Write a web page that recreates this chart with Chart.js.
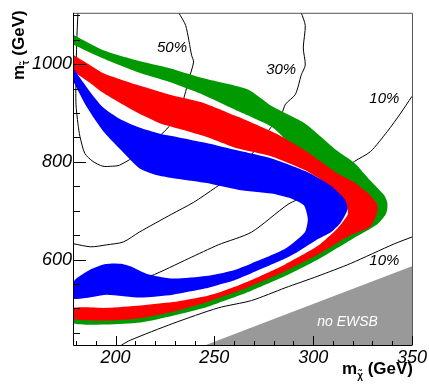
<!DOCTYPE html>
<html lang="en">
<head>
    <meta charset="UTF-8">
    <title>Stau - neutralino mass plane</title>
    <style>
        body { margin: 0; background: #fff; }
        #wrap { width: 429px; height: 388px; }
    </style>
    <script src="https://cdn.jsdelivr.net/npm/chart.js"></script>
</head>
<body>
<div id="wrap"><canvas id="plane" width="429" height="388"></canvas></div>
<script>
    // axis ranges and labelled ticks (GeV)
    const xRange = [179, 350];
    const yRange = [425, 1105];
    const xTickLabels = [200, 250, 300, 350];
    const yTickLabels = [600, 800, 1000];

    // bands: outer edge (top-left -> tip -> bottom-left), inner edge back to top-left
    const greenOuter = [[179,1059],[193.5,1029],[210.5,1008],[227,992],[243.5,972],[267,948],[279,914],[296,878],
        [312,823],[321,797],[329,761],[336,731],[337.5,717],[337.5,703],[336.5,691],[332.5,672],[319,640],[302.4,600],
        [285.8,566],[268.8,536],[259,521],[252,511],[245.7,502],[229,485],[212.6,471],[195.5,467],[179,469]];
    const greenInner = [[179,491],[212.6,493],[229,501],[245.7,518],[268.8,554],[285.8,584],[302.4,620],[314.4,660],
        [324.5,697],[320,727],[307,773],[292,817],[284,854],[279,872],[262,904],[244,938],[227,964],[211,984],
        [193.5,1012],[179,1039]];

    const redOuter = [[179,1018],[187,998],[193.5,982],[210.5,958],[227,938],[243.5,922],[262,892],[279,862],[284,852],
        [296,823],[312,777],[321,757],[329,731],[332.5,711],[332,691],[328.5,666],[319,650],[302.4,610],[285.8,576],
        [268.8,546],[259,531],[252,521],[245.7,512],[229,493],[212.6,480],[195.5,475],[179,478]];
    const redInner = [[179,501],[195.5,501],[212.6,506],[229,513],[245.7,525],[252,532],[259,542],[268.8,558],
        [285.8,590],[302.4,628],[312.4,664],[317.4,691],[317.4,703],[312.4,737],[303.9,763],[295.8,783],[279,811],
        [262,827],[245.5,852],[228.5,872],[223,878],[210.5,902],[193.5,942],[187,962],[179,984]];

    const blueOuter = [[179,990],[182,972],[187,944],[193.5,912],[202,888],[212,870],[222,858],[232,850],[245.5,839],
        [262,823],[279,807],[296,781],[309,751],[316,723],[317.4,703],[314,676],[309,656],[302.4,642],[292.3,616],
        [285.8,602],[268.8,572],[259,556],[252,548],[245.7,541],[229,528],[212.6,522],[195.5,528],[179,520]];
    const blueInner = [[179,556],[187.5,580],[194,590],[199,592],[203.5,591],[207.6,586],[215.6,571],[229,561],
        [245.7,566],[259,577],[268.8,592],[285.8,622],[295.8,656],[297.3,683],[295.3,711],[288.8,725],[278.8,735],
        [262,743],[245.5,757],[228.5,767],[220.5,773],[212,787],[202,827],[193.5,864],[185.5,912],[179,962]];

    // region without electroweak symmetry breaking
    const noEwsb = [[245.7,425],[292.3,497],[350,586],[350,425]];

    // contour lines
    const contour50 = [[181,1105],[180.5,1059],[180,978],[180,918],[181,878],[182,852],[184.5,817],[188.5,801],
        [193.5,791],[198.5,791],[202,793],[212,817],[222,852],[227,872],[233.5,918],[235.5,944],[237,968],
        [239.5,1004],[238.5,1018],[235.5,1079],[232,1105]];
    const contour30 = [[294,1105],[296,1079],[295,1033],[296,998],[294,978],[291,938],[286,918],[284,898],[277,862],
        [270,821],[259.5,773],[250.5,747],[239.5,717],[228.5,693],[212,656],[204,636],[195.5,630],[187.5,626],[179,632]];
    const contour10 = [[350,934],[344,898],[337.5,862],[329,821],[321,801],[307.5,761],[297.5,733],[287.3,713],
        [268.8,656],[252,630],[237,602],[217.6,566],[189,530],[179,520]];
    const contour10low = [[203,425],[207.6,435],[229,469],[252,501],[268.8,516],[285.8,542],[302.4,566],[319,592],
        [341,632],[350,646]];

    const toPts = arr => arr.map(p => ({x: p[0], y: p[1]}));

    function band(outer, inner, color, order) {
        return {
            data: toPts(outer.concat(inner)),
            showLine: true,
            fill: 'shape',
            backgroundColor: color,
            borderWidth: 0,
            tension: 0.2,
            pointRadius: 0,
            order: order
        };
    }
    function contour(arr) {
        return {
            data: toPts(arr),
            showLine: true,
            fill: false,
            borderColor: '#000',
            borderWidth: 1,
            tension: 0.25,
            pointRadius: 0,
            order: 10
        };
    }

    const font = '"Liberation Sans", Arial, sans-serif';

    // inner tick marks, frame, axis titles and contour labels
    const decor = {
        id: 'decor',
        afterDatasetsDraw(chart) {
            const {ctx, chartArea: a, scales: {x, y}} = chart;
            ctx.save();

            ctx.fillStyle = '#000';
            ctx.font = 'italic 15px ' + font;
            ctx.textAlign = 'center';
            ctx.textBaseline = 'middle';
            ctx.fillText('50%', x.getPixelForValue(228.6), y.getPixelForValue(1033));
            ctx.fillText('30%', x.getPixelForValue(283.8), y.getPixelForValue(988));
            ctx.fillText('10%', x.getPixelForValue(336), y.getPixelForValue(928));
            ctx.fillText('10%', x.getPixelForValue(336), y.getPixelForValue(598));
            ctx.fillStyle = '#fff';
            ctx.font = 'italic 14px ' + font;
            ctx.fillText('no EWSB', x.getPixelForValue(317.4), y.getPixelForValue(471));

            // frame
            ctx.lineWidth = 1;
            ctx.strokeStyle = '#555';
            ctx.beginPath();
            ctx.moveTo(a.left, a.top + 0.5);
            ctx.lineTo(a.right + 0.5, a.top + 0.5);
            ctx.lineTo(a.right + 0.5, a.bottom);
            ctx.stroke();
            ctx.strokeStyle = '#000';
            ctx.beginPath();
            ctx.moveTo(a.left - 0.5, a.top);
            ctx.lineTo(a.left - 0.5, a.bottom + 0.5);
            ctx.lineTo(a.right + 0.5, a.bottom + 0.5);
            ctx.stroke();

            // ticks pointing into the plot
            ctx.beginPath();
            for (let v = 180; v <= xRange[1]; v += 10) {
                const px = Math.round(x.getPixelForValue(v)) + 0.5;
                const len = v % 50 === 0 ? 9 : 4;
                ctx.moveTo(px, a.bottom);
                ctx.lineTo(px, a.bottom - len);
            }
            for (let v = 450; v <= yRange[1]; v += 50) {
                const py = Math.round(y.getPixelForValue(v)) + 0.5;
                const len = v % 200 === 0 ? 12 : 6;
                ctx.moveTo(a.left, py);
                ctx.lineTo(a.left + len, py);
            }
            ctx.stroke();

            // axis titles
            ctx.fillStyle = '#000';
            ctx.textAlign = 'left';
            ctx.textBaseline = 'alphabetic';
            const big = 'bold 17px ' + font;
            const small = 'bold 10px ' + font;

            ctx.font = big;
            let w1 = ctx.measureText('m').width;
            let w3 = ctx.measureText(' (GeV)').width;
            ctx.font = small;
            let w2 = ctx.measureText('\u03c7\u0303').width;
            let sx = 413 - (w1 + w2 + w3);
            ctx.font = big;
            ctx.fillText('m', sx, 374);
            ctx.font = small;
            ctx.fillText('\u03c7\u0303', sx + w1, 379);
            ctx.font = big;
            ctx.fillText(' (GeV)', sx + w1 + w2, 374);

            ctx.translate(24, 80);
            ctx.rotate(-Math.PI / 2);
            ctx.font = big;
            ctx.fillText('m', 0, 0);
            w1 = ctx.measureText('m').width;
            ctx.font = small;
            ctx.fillText('\u03c4\u0303', w1, 5);
            w2 = ctx.measureText('\u03c4\u0303').width;
            ctx.font = big;
            ctx.fillText(' (GeV)', w1 + w2, 0);

            ctx.restore();
        }
    };

    const tickFont = {family: font, size: 18, style: 'italic'};

    new Chart(document.getElementById('plane'), {
        type: 'scatter',
        data: {
            datasets: [
                band(blueOuter, blueInner, '#0000ff', 1),
                band(redOuter, redInner, '#ff0000', 2),
                band(greenOuter, greenInner, '#009900', 3),
                {
                    data: toPts(noEwsb),
                    showLine: true,
                    fill: 'shape',
                    backgroundColor: '#999999',
                    borderWidth: 0,
                    pointRadius: 0,
                    order: 4
                },
                contour(contour50),
                contour(contour30),
                contour(contour10),
                contour(contour10low)
            ]
        },
        options: {
            responsive: false,
            animation: false,
            layout: {padding: {top: 7, right: 14, left: 0, bottom: 0}},
            plugins: {legend: {display: false}, tooltip: {enabled: false}},
            scales: {
                x: {
                    type: 'linear',
                    min: xRange[0],
                    max: xRange[1],
                    afterFit: s => { s.height = 43; },
                    grid: {display: false, drawTicks: false},
                    border: {display: false},
                    ticks: {
                        stepSize: 50,
                        includeBounds: false,
                        autoSkip: false,
                        maxRotation: 0,
                        padding: 2,
                        color: '#000',
                        font: tickFont,
                        callback: v => xTickLabels.includes(v) ? String(v) : ''
                    }
                },
                y: {
                    type: 'linear',
                    min: yRange[0],
                    max: yRange[1],
                    afterFit: s => { s.width = 74; },
                    grid: {display: false, drawTicks: false},
                    border: {display: false},
                    ticks: {
                        stepSize: 200,
                        includeBounds: false,
                        autoSkip: false,
                        padding: 2,
                        color: '#000',
                        font: tickFont,
                        callback: v => yTickLabels.includes(v) ? String(v) : ''
                    }
                }
            }
        },
        plugins: [decor]
    });
</script>
</body>
</html>
